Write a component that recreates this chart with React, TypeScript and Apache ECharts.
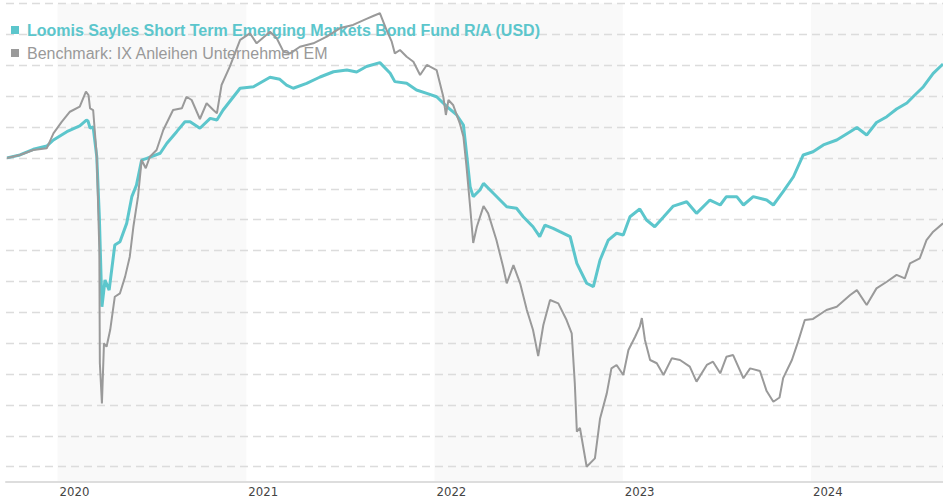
import React, { useEffect, useRef } from "react";
import * as echarts from "echarts";

const fundName = "Loomis Sayles Short Term Emerging Markets Bond Fund R/A (USD)";
const benchName = "Benchmark: IX Anleihen Unternehmen EM";

const fundDates = [
  "2019-09-25", "2019-10-20", "2019-11-15", "2019-12-11", "2019-12-24", "2020-01-19", "2020-02-13", "2020-02-26",
  "2020-02-29", "2020-03-04", "2020-03-10", "2020-03-17", "2020-03-22", "2020-03-27", "2020-04-02", "2020-04-10",
  "2020-04-21", "2020-05-01", "2020-05-14", "2020-05-24", "2020-06-02", "2020-06-12", "2020-06-22", "2020-07-18",
  "2020-07-31", "2020-08-19", "2020-09-04", "2020-09-14", "2020-10-03", "2020-10-23", "2020-11-05", "2020-11-17",
  "2020-12-20", "2021-01-15", "2021-02-16", "2021-03-07", "2021-03-20", "2021-04-02", "2021-04-28", "2021-05-24",
  "2021-06-19", "2021-07-15", "2021-08-03", "2021-08-22", "2021-09-17", "2021-10-07", "2021-10-16", "2021-11-08",
  "2021-11-27", "2021-12-17", "2022-01-05", "2022-01-25", "2022-02-13", "2022-02-26", "2022-03-04", "2022-03-11",
  "2022-03-17", "2022-03-30", "2022-04-06", "2022-04-25", "2022-05-21", "2022-06-09", "2022-06-22", "2022-07-11",
  "2022-07-24", "2022-08-03", "2022-08-19", "2022-09-01", "2022-09-21", "2022-10-04", "2022-10-23", "2022-11-05",
  "2022-11-18", "2022-12-04", "2022-12-20", "2023-01-02", "2023-01-15", "2023-02-03", "2023-02-16", "2023-03-04",
  "2023-03-21", "2023-04-09", "2023-05-05", "2023-05-24", "2023-06-19", "2023-07-09", "2023-07-21", "2023-08-10",
  "2023-08-23", "2023-09-11", "2023-10-07", "2023-10-20", "2023-11-08", "2023-11-28", "2023-12-17", "2024-01-05",
  "2024-01-25", "2024-02-20", "2024-03-17", "2024-03-30", "2024-04-18", "2024-05-07", "2024-05-27", "2024-06-15",
  "2024-07-05", "2024-07-17", "2024-08-06", "2024-08-25", "2024-09-13",
];
const fundValues = [
  0.0, 0.19, 0.56, 0.77, 1.16, 1.7, 2.07, 2.45,
  2.39, 1.94, 2.0, 0.08, -3.81, -9.64, -7.91, -8.56,
  -5.64, -5.43, -4.24, -2.51, -1.76, -0.14, -0.03, 0.3,
  0.95, 1.7, 2.34, 2.34, 1.92, 2.56, 2.45, 3.1,
  4.51, 4.61, 5.22, 5.09, 4.72, 4.51, 4.83, 5.24,
  5.58, 5.69, 5.56, 5.92, 6.17, 5.48, 4.94, 4.83,
  4.4, 4.18, 3.96, 3.32, 2.78, 2.13, 0.3, -1.87,
  -2.51, -2.08, -1.65, -2.29, -3.16, -3.26, -3.81, -4.46,
  -5.1, -4.35, -4.56, -4.78, -5.1, -6.83, -8.12, -8.34,
  -6.61, -5.32, -4.88, -4.99, -3.81, -3.31, -4.02, -4.46,
  -3.83, -3.12, -2.84, -3.59, -2.73, -3.05, -2.51, -2.51,
  -3.05, -2.51, -2.73, -3.05, -2.19, -1.22, 0.19, 0.4,
  0.84, 1.16, 1.7, 1.97, 1.48, 2.29, 2.67, 3.17,
  3.56, 3.96, 4.61, 5.48, 6.08,
];

const benchDates = [
  "2019-09-25", "2019-10-20", "2019-11-15", "2019-12-11", "2019-12-24", "2020-01-09", "2020-01-25", "2020-02-13",
  "2020-02-25", "2020-03-01", "2020-03-04", "2020-03-10", "2020-03-17", "2020-03-22", "2020-03-23", "2020-03-27",
  "2020-03-31", "2020-04-05", "2020-04-12", "2020-04-21", "2020-05-01", "2020-05-11", "2020-05-20", "2020-05-27",
  "2020-06-05", "2020-06-12", "2020-06-20", "2020-06-28", "2020-07-11", "2020-07-24", "2020-08-12", "2020-08-29",
  "2020-09-07", "2020-09-17", "2020-10-03", "2020-10-16", "2020-10-29", "2020-11-05", "2020-11-14", "2020-11-30",
  "2020-12-20", "2021-01-08", "2021-01-21", "2021-02-16", "2021-03-01", "2021-03-14", "2021-03-27", "2021-04-15",
  "2021-05-11", "2021-06-06", "2021-07-02", "2021-07-27", "2021-08-22", "2021-09-04", "2021-09-17", "2021-09-30",
  "2021-10-10", "2021-10-16", "2021-10-26", "2021-11-08", "2021-11-21", "2021-12-04", "2021-12-17", "2022-01-05",
  "2022-01-18", "2022-01-23", "2022-01-28", "2022-02-06", "2022-02-19", "2022-02-26", "2022-03-04", "2022-03-11",
  "2022-03-17", "2022-03-24", "2022-04-06", "2022-04-15", "2022-05-01", "2022-05-14", "2022-05-21", "2022-06-03",
  "2022-06-16", "2022-06-29", "2022-07-11", "2022-07-21", "2022-07-31", "2022-08-13", "2022-08-29", "2022-09-14",
  "2022-09-24", "2022-09-30", "2022-10-04", "2022-10-10", "2022-10-23", "2022-11-08", "2022-11-18", "2022-12-01",
  "2022-12-10", "2022-12-20", "2023-01-02", "2023-01-12", "2023-01-25", "2023-02-03", "2023-02-07", "2023-02-13",
  "2023-02-23", "2023-03-08", "2023-03-21", "2023-04-06", "2023-04-22", "2023-05-11", "2023-05-24", "2023-06-13",
  "2023-06-25", "2023-07-09", "2023-07-21", "2023-08-03", "2023-08-23", "2023-09-05", "2023-09-24", "2023-10-07",
  "2023-10-20", "2023-11-01", "2023-11-08", "2023-11-25", "2023-12-07", "2023-12-20", "2024-01-05", "2024-01-31",
  "2024-02-20", "2024-03-17", "2024-03-30", "2024-04-18", "2024-05-07", "2024-05-27", "2024-06-15", "2024-07-01",
  "2024-07-11", "2024-07-30", "2024-08-12", "2024-08-25", "2024-09-13",
];
const benchValues = [
  0.0, 0.19, 0.51, 0.62, 1.59, 2.33, 2.99, 3.32,
  4.29, 4.07, 3.21, 3.1, 0.08, -5.96, -13.3, -15.91,
  -12.01, -12.23, -11.15, -8.99, -8.77, -7.69, -6.4, -4.46,
  -2.51, -0.14, -0.67, 0.08, 0.51, 1.81, 3.1, 3.21,
  3.96, 3.75, 2.52, 3.54, 3.1, 2.89, 4.72, 5.91,
  7.64, 8.07, 7.42, 8.17, 7.75, 6.88, 6.77, 7.2,
  7.42, 7.85, 8.41, 8.61, 9.0, 9.19, 9.37, 8.28,
  7.53, 6.77, 6.99, 6.55, 6.23, 5.37, 6.02, 5.69,
  3.96, 2.78, 3.75, 3.43, 2.24, 1.37, -0.57, -3.16,
  -5.51, -4.46, -3.12, -3.59, -5.32, -7.05, -8.12, -6.94,
  -8.12, -9.85, -11.15, -12.83, -10.82, -9.2, -9.42, -10.5,
  -11.36, -14.6, -17.73, -17.49, -20.0, -19.46, -16.87, -15.25,
  -13.63, -13.41, -14.06, -12.44, -11.58, -10.93, -10.37, -11.79,
  -13.09, -13.3, -14.06, -12.98, -13.09, -13.52, -14.49, -13.41,
  -13.2, -13.95, -12.88, -12.77, -14.27, -13.63, -13.8, -15.1,
  -15.79, -15.52, -14.26, -13.09, -11.9, -10.5, -10.43, -9.85,
  -9.64, -8.88, -8.56, -9.53, -8.45, -8.02, -7.58, -7.8,
  -6.83, -6.5, -5.32, -4.78, -4.24,
];

const shadedYears = [
  ["2020-01-01", "2021-01-01"],
  ["2022-01-01", "2023-01-01"],
  ["2024-01-01", "2024-09-13"],
];

const axisStart = "2019-09-23";
const axisEnd = "2024-09-13";

const TEAL = "#5cc6cc";
const GREY = "#9a9a9a";

function t(s: string): number {
  const [y, m, d] = s.split("-").map(Number);
  return new Date(y, m - 1, d).getTime();
}

export default function App() {
  const ref = useRef<HTMLDivElement>(null);

  useEffect(() => {
    if (!ref.current) return;
    const chart = echarts.init(ref.current, undefined, { renderer: "svg" });
    const day = 24 * 3600 * 1000;
    const option: any = {
      animation: false,
      backgroundColor: "#ffffff",
      grid: { left: 6, right: 0, top: 3.5, bottom: 2.4, containLabel: false },
      legend: {
        orient: "vertical",
        left: 11,
        top: 22,
        padding: 0,
        itemGap: 7,
        itemWidth: 8,
        itemHeight: 8,
        icon: "rect",
        z: 1.8,
        selectedMode: false,
        textStyle: { fontFamily: "Liberation Sans, Arial, sans-serif", fontSize: 16, padding: [0, 0, 0, 3] },
        data: [
          { name: fundName, itemStyle: { color: TEAL }, textStyle: { color: TEAL, fontWeight: "bold" } },
          { name: benchName, itemStyle: { color: GREY }, textStyle: { color: "#999999", fontWeight: "normal" } },
        ],
      },
      xAxis: {
        type: "time",
        min: t(axisStart),
        max: t(axisEnd),
        offset: -15.6,
        z: 1.5,
        minInterval: 365 * day,
        maxInterval: 366 * day,
        axisLine: { show: true, onZero: false, lineStyle: { color: "#dddddd", width: 2 } },
        axisTick: { show: false },
        splitLine: { show: false },
        axisLabel: {
          show: true,
          color: "#444444",
          fontSize: 13,
          fontFamily: "Liberation Sans Narrow, DejaVu Sans Condensed, Arial, sans-serif",
          align: "left",
          margin: 3,
          padding: [0, 0, 0, 2],
          formatter: (v: number) => String(new Date(v).getFullYear()),
        },
      },
      yAxis: {
        type: "value",
        min: -22,
        max: 10,
        interval: 2,
        z: 1.5,
        axisLine: { show: false },
        axisTick: { show: false },
        axisLabel: { show: false },
        splitLine: {
          show: true,
          showMinLine: false,
          lineStyle: { color: "#dcdcdc", width: 1.3, type: [8, 5] },
        },
      },
      series: [
        {
          name: fundName,
          type: "line",
          showSymbol: false,
          symbol: "none",
          z: 2,
          lineStyle: { color: TEAL, width: 3 },
          itemStyle: { color: TEAL },
          data: fundDates.map((d, i) => [t(d), fundValues[i]]),
          markArea: {
            silent: true,
            itemStyle: { color: "#f9f9f9" },
            data: shadedYears.map(([a, b]) => [
              { xAxis: t(a), yAxis: 10 },
              { xAxis: t(b), yAxis: -21 },
            ]),
          },
        },
        {
          name: benchName,
          type: "line",
          showSymbol: false,
          symbol: "none",
          z: 2,
          lineStyle: { color: GREY, width: 2 },
          itemStyle: { color: GREY },
          data: benchDates.map((d, i) => [t(d), benchValues[i]]),
        },
      ],
    };
    chart.setOption(option);
    return () => chart.dispose();
  }, []);

  return (
    <div
      ref={ref}
      style={{ position: "absolute", left: 0, top: 0, width: 943, height: 500 }}
    />
  );
}
